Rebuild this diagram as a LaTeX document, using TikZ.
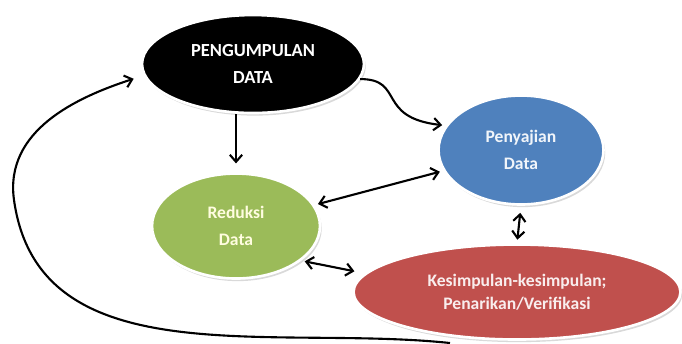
\documentclass[tikz,border=0pt]{standalone}
\usepackage{fontspec}
\setmainfont{Carlito}
\usetikzlibrary{shapes.geometric,shadows,arrows.meta}
\definecolor{biru}{HTML}{4F81BD}
\definecolor{hijau}{HTML}{9BBB59}
\definecolor{merah}{HTML}{C0504D}
\begin{document}
\begin{tikzpicture}[x=0.02cm,y=-0.02cm,
    tahap/.style={ellipse,draw=white,line width=1.5pt,inner sep=0pt,align=center,
      font=\bfseries\fontsize{10}{15.5}\selectfont,
      drop shadow={opacity=0.3,shadow xshift=1pt,shadow yshift=-1.5pt}},
    panah/.style={-{Straight Barb[length=4pt,width=7pt]},line width=1.2pt},
    dwipanah/.style={{Straight Barb[length=4pt,width=7pt]}-{Straight Barb[length=4pt,width=7pt]},line width=1.2pt}]
  \useasboundingbox (0,0) rectangle (682,343);
  % tahap-tahap analisis
  \node[tahap,fill=black,text=white,minimum width=4.44cm,minimum height=1.96cm,
    font=\bfseries\fontsize{10.5}{15.5}\selectfont] (kumpul) at (253,64) {PENGUMPULAN\\DATA};
  \node[tahap,fill=biru,text=white!92!biru,minimum width=3.3cm,minimum height=2.18cm] (saji) at (521,150) {Penyajian\\Data};
  \node[tahap,fill=hijau,text=white!88!yellow,minimum width=3.36cm,minimum height=2.1cm] (reduksi) at (236,226) {Reduksi\\Data};
  \node[tahap,fill=merah,text=white!90!merah,minimum width=6.54cm,minimum height=1.9cm,
    font=\bfseries\fontsize{10}{13}\selectfont] (simpul) at (517,292) {Kesimpulan-kesimpulan;\\Penarikan/Verifikasi};
  \coordinate (awal) at (450,343);
  \coordinate (kiri) at (14,200);
  % panah
  \draw[panah,shorten >=5pt] (reduksi.north |- kumpul.south) -- (reduksi.north);
  \draw[panah,shorten >=2pt] (kumpul.-8) .. controls +(45,0) and +(-70,-8) .. (saji.162);
  \draw[panah,shorten >=6pt] (awal) to[out=174,in=-82] (kiri) to[out=98,in=198] (kumpul.186);
  \draw[dwipanah,shorten <=2pt,shorten >=2pt] (reduksi.15) -- (saji.195);
  \draw[dwipanah,shorten <=2pt,shorten >=6pt] (reduksi.-28) -- (simpul.173);
  \draw[dwipanah,shorten <=4pt,shorten >=2pt] (saji.south) -- (simpul.north);
\end{tikzpicture}
\end{document}
